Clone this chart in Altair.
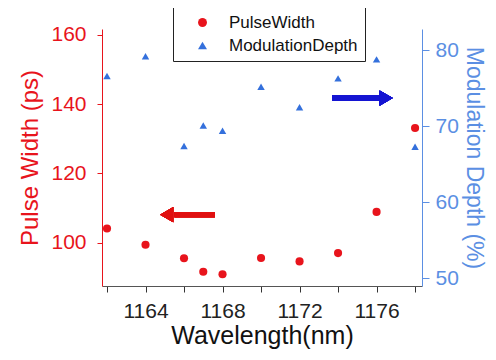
import altair as alt
import pandas as pd

wavelength = [1162, 1164, 1166, 1167, 1168, 1170, 1172, 1174, 1176, 1178]
pulse_width = [104.1, 99.4, 95.5, 91.6, 90.9, 95.6, 94.6, 97.0, 108.9, 133.1]
mod_depth = [76.6, 79.2, 67.4, 70.1, 69.4, 75.2, 72.5, 76.3, 78.8, 67.3]
series_names = ["PulseWidth", "ModulationDepth"]
x_ticks = [1162, 1164, 1166, 1168, 1170, 1172, 1174, 1176, 1178]
left_ticks = [100, 120, 140, 160]
right_ticks = [50, 60, 70, 80]

RED = "#e8141c"
BLUE = "#3470dc"
BLUE_AX = "#5b8fe3"
FONT = "Liberation Sans"

df = pd.DataFrame({"wavelength": wavelength, "pulse": pulse_width, "depth": mod_depth})

xscale = alt.Scale(domain=[1161.74, 1178.36], nice=False, zero=False)
xaxis = alt.Axis(values=x_ticks, format="d", labelExpr="datum.value % 4 == 0 ? datum.label : ''",
                 title="Wavelength(nm)", grid=False, tickSize=6, tickColor="#333",
                 domainColor="#555", labelColor="#222", titleColor="#111",
                 labelFontSize=21, titleFontSize=25, labelPadding=8, titlePadding=2,
                 labelFont=FONT, titleFont=FONT, titleFontWeight="normal")

color_scale = alt.Scale(domain=series_names, range=[RED, BLUE])
shape_scale = alt.Scale(domain=series_names, range=["circle", "triangle-up"])
legend = alt.Legend(title=None, orient="none", legendX=71, legendY=-22, direction="vertical",
                    strokeColor="#222", fillColor="white", padding=7, labelFontSize=17,
                    labelFont=FONT, symbolSize=80, rowPadding=5, labelColor="#111",
                    symbolStrokeWidth=0, labelOffset=18, symbolOffset=14)

lscale = alt.Scale(domain=[87.5, 161.7], nice=False, zero=False)
rscale = alt.Scale(domain=[48.95, 82.8], nice=False, zero=False)
laxis = alt.Axis(
    values=left_ticks, title="Pulse Width (ps)", orient="left", grid=False, tickSize=5,
    domainColor=RED, tickColor=RED, labelColor=RED, titleColor=RED,
    labelFontSize=21, titleFontSize=24, labelFont=FONT, titleFont=FONT,
    titleFontWeight="normal", titlePadding=8, labelPadding=11)
raxis = alt.Axis(
    values=right_ticks, title="Modulation Depth (%)", orient="right", grid=False, tickSize=7,
    domainColor=BLUE_AX, tickColor=BLUE_AX, labelColor=BLUE_AX, titleColor=BLUE_AX,
    labelFontSize=21, titleFontSize=23, labelFont=FONT, titleFont=FONT,
    titleFontWeight="normal", titlePadding=3, labelPadding=6)

base = alt.Chart(df)

red_pts = base.transform_calculate(series="'PulseWidth'").mark_point(filled=True, opacity=1, size=66).encode(
    x=alt.X("wavelength:Q", scale=xscale, axis=xaxis),
    y=alt.Y("pulse:Q", scale=lscale, axis=laxis),
    color=alt.Color("series:N", scale=color_scale, legend=legend),
    shape=alt.Shape("series:N", scale=shape_scale, legend=legend),
)

red_rule = alt.Chart(df).mark_rule(color="#e01010", strokeWidth=5).encode(
    x=alt.X(datum=1165.5, scale=xscale, axis=xaxis), x2=alt.X2(datum=1167.6),
    y=alt.Y(datum=108.1, scale=lscale, axis=laxis),
)
red_head = alt.Chart(df).mark_point(shape="triangle-left", filled=True, opacity=1, size=230, color="#e01010").encode(
    x=alt.X(datum=1165.1, scale=xscale, axis=xaxis), y=alt.Y(datum=108.1, scale=lscale, axis=laxis),
)

blue_pts = base.transform_calculate(series="'ModulationDepth'").mark_point(filled=True, opacity=1, size=55).encode(
    x=alt.X("wavelength:Q", scale=xscale, axis=xaxis),
    y=alt.Y("depth:Q", scale=rscale, axis=raxis),
    color=alt.Color("series:N", scale=color_scale, legend=legend),
    shape=alt.Shape("series:N", scale=shape_scale, legend=legend),
)

blue_rule = alt.Chart(df).mark_rule(color="#1414d2", strokeWidth=5).encode(
    x=alt.X(datum=1173.7, scale=xscale, axis=xaxis), x2=alt.X2(datum=1176.2),
    y=alt.Y(datum=73.7, scale=rscale, axis=raxis),
)
blue_head = alt.Chart(df).mark_point(shape="triangle-right", filled=True, opacity=1, size=230, color="#1414d2").encode(
    x=alt.X(datum=1176.5, scale=xscale, axis=xaxis), y=alt.Y(datum=73.7, scale=rscale, axis=raxis),
)

left_layer = alt.layer(red_pts, red_rule, red_head)
right_layer = alt.layer(blue_pts, blue_rule, blue_head)

chart = alt.layer(left_layer, right_layer).resolve_scale(y="independent").properties(
    width=320, height=257,
    autosize=alt.AutoSizeParams(type="none"),
    padding={"left": 94, "top": 21, "right": 66, "bottom": 66},
    background="white",
).configure_view(stroke=None)

chart.save("out.html", embed_options={"renderer": "svg", "actions": False})
